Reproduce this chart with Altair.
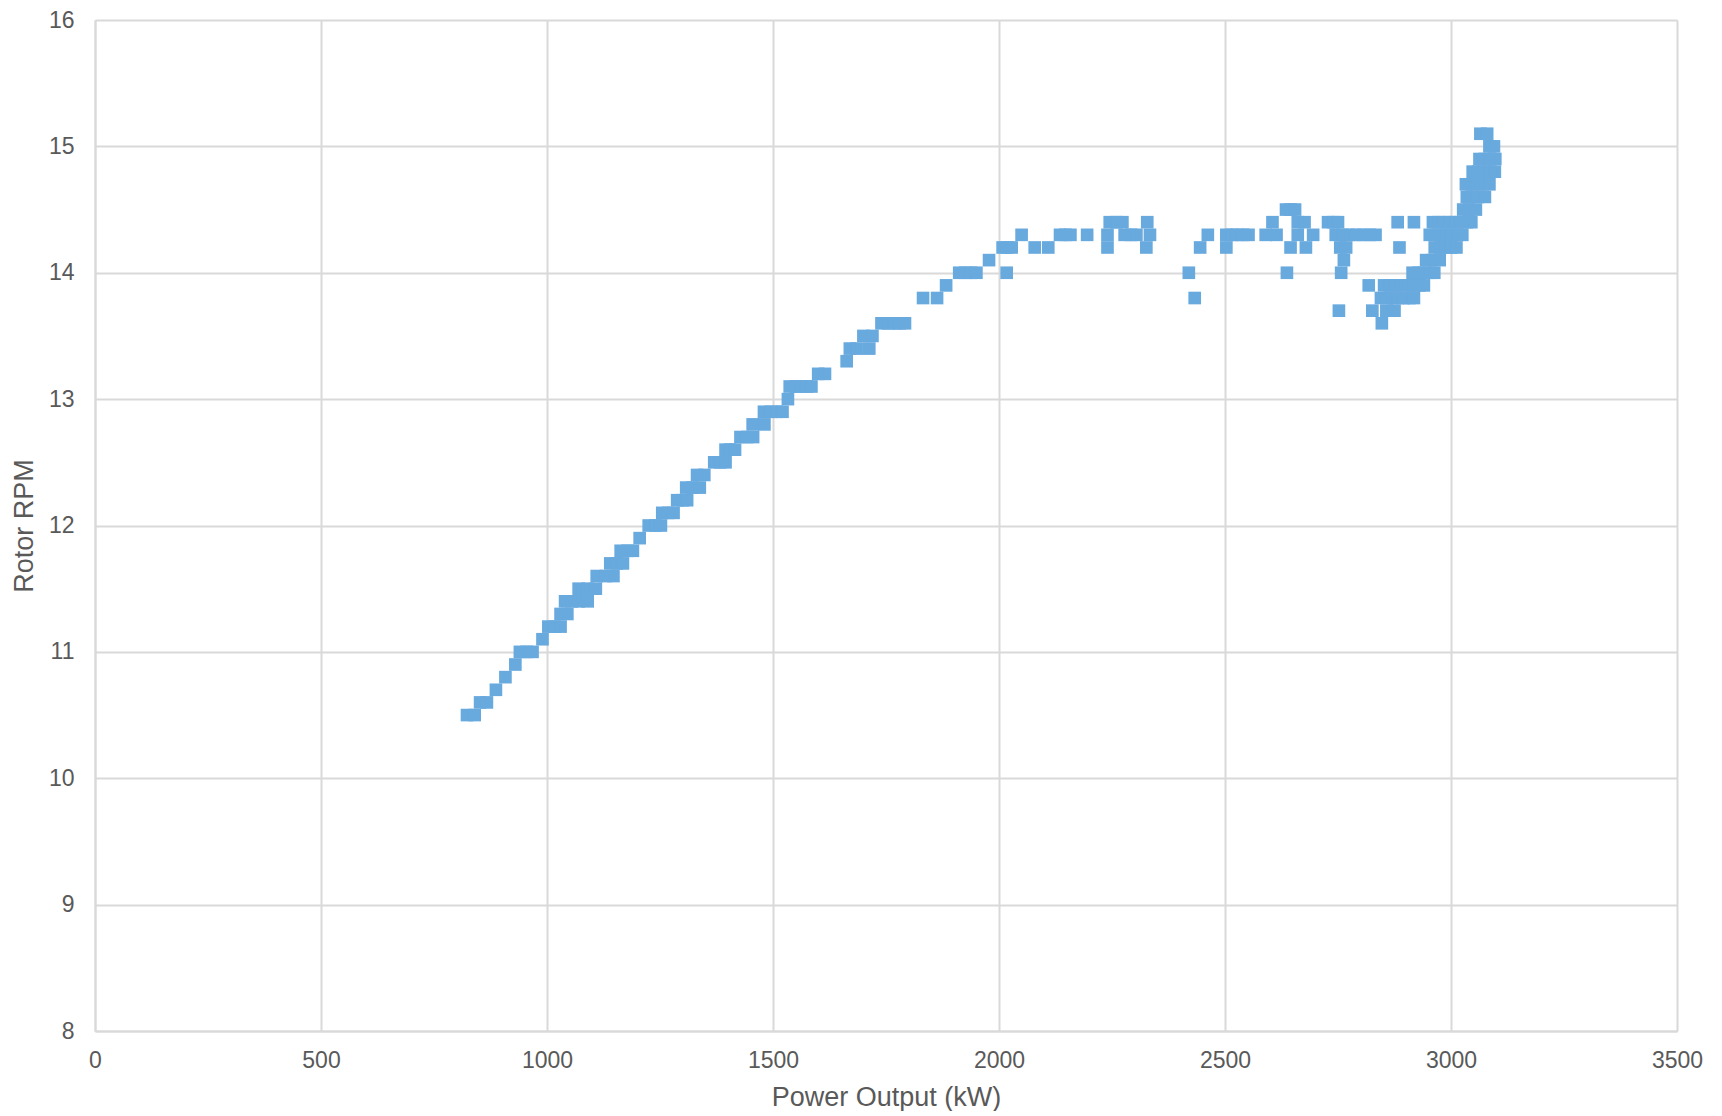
import altair as alt
import pandas as pd

# Power output (kW) and matching rotor speed (RPM)
power_kw = [
    823, 840, 852, 867, 887, 908, 930, 940, 955, 968, 990,
    1003, 1017, 1030, 1030, 1045, 1040, 1055, 1070, 1090,
    1070, 1090, 1108, 1110, 1130, 1147, 1140, 1155, 1168,
    1163, 1178, 1190, 1205, 1225, 1240, 1252, 1255, 1268, 1280,
    1288, 1300, 1310, 1308, 1322, 1338, 1332, 1348,
    1370, 1383, 1395, 1395, 1405, 1416, 1428, 1443, 1456,
    1455, 1481, 1480, 1495, 1508, 1521, 1533,
    1537, 1550, 1562, 1575, 1585, 1600, 1615, 1663,
    1670, 1685, 1713, 1700, 1720, 1740, 1755, 1768, 1780, 1792,
    1832, 1863, 1883, 1912, 1925, 1938, 1950, 2017, 1978,
    2008, 2018, 2028, 2079, 2109, 2050, 2135, 2147, 2158, 2195,
    2245, 2260, 2273, 2240, 2278, 2292, 2304, 2334, 2240, 2326, 2328,
    2420, 2433, 2445, 2462, 2503, 2503, 2515, 2527, 2540, 2552,
    2590, 2614, 2605, 2635, 2645, 2655, 2661, 2676, 2661, 2695,
    2645, 2679, 2637, 2728, 2740, 2750,
    2745, 2760, 2775, 2790, 2805, 2820, 2833, 2755, 2768, 2763, 2757, 2752,
    2818, 2882, 2918, 2886,
    2852, 2865, 2878, 2890, 2905, 2918, 2930, 2940,
    2845, 2858, 2870, 2882, 2895, 2908, 2918,
    2826, 2857, 2875, 2847,
    2915, 2928, 2940, 2952, 2963, 2945, 2960, 2975,
    2964, 2976, 2988, 3000, 3012,
    2953, 2965, 2978, 2990, 3002, 3015, 3025,
    2960, 2972, 2985, 2997, 3010, 3022, 3035, 3045,
    3027, 3040, 3055, 3035, 3048, 3060, 3075,
    3033, 3045, 3057, 3070, 3085, 3048, 3060, 3072, 3085, 3097,
    3063, 3075, 3088, 3098, 3085, 3095, 3065, 3080,
]

rotor_rpm = [
    10.5, 10.5, 10.6, 10.6, 10.7, 10.8, 10.9, 11.0, 11.0, 11.0, 11.1,
    11.2, 11.2, 11.2, 11.3, 11.3, 11.4, 11.4, 11.4, 11.4,
    11.5, 11.5, 11.5, 11.6, 11.6, 11.6, 11.7, 11.7, 11.7,
    11.8, 11.8, 11.8, 11.9, 12.0, 12.0, 12.0, 12.1, 12.1, 12.1,
    12.2, 12.2, 12.2, 12.3, 12.3, 12.3, 12.4, 12.4,
    12.5, 12.5, 12.5, 12.6, 12.6, 12.6, 12.7, 12.7, 12.7,
    12.8, 12.8, 12.9, 12.9, 12.9, 12.9, 13.0,
    13.1, 13.1, 13.1, 13.1, 13.1, 13.2, 13.2, 13.3,
    13.4, 13.4, 13.4, 13.5, 13.5, 13.6, 13.6, 13.6, 13.6, 13.6,
    13.8, 13.8, 13.9, 14.0, 14.0, 14.0, 14.0, 14.0, 14.1,
    14.2, 14.2, 14.2, 14.2, 14.2, 14.3, 14.3, 14.3, 14.3, 14.3,
    14.4, 14.4, 14.4, 14.3, 14.3, 14.3, 14.3, 14.3, 14.2, 14.2, 14.4,
    14.0, 13.8, 14.2, 14.3, 14.2, 14.3, 14.3, 14.3, 14.3, 14.3,
    14.3, 14.3, 14.4, 14.5, 14.5, 14.5, 14.4, 14.4, 14.3, 14.3,
    14.2, 14.2, 14.0, 14.4, 14.4, 14.4,
    14.3, 14.3, 14.3, 14.3, 14.3, 14.3, 14.3, 14.2, 14.2, 14.1, 14.0, 13.7,
    13.9, 14.4, 14.4, 14.2,
    13.9, 13.9, 13.9, 13.9, 13.9, 13.9, 13.9, 13.9,
    13.8, 13.8, 13.8, 13.8, 13.8, 13.8, 13.8,
    13.7, 13.7, 13.7, 13.6,
    14.0, 14.0, 14.0, 14.0, 14.0, 14.1, 14.1, 14.1,
    14.2, 14.2, 14.2, 14.2, 14.2,
    14.3, 14.3, 14.3, 14.3, 14.3, 14.3, 14.3,
    14.4, 14.4, 14.4, 14.4, 14.4, 14.4, 14.4, 14.4,
    14.5, 14.5, 14.5, 14.6, 14.6, 14.6, 14.6,
    14.7, 14.7, 14.7, 14.7, 14.7, 14.8, 14.8, 14.8, 14.8, 14.8,
    14.9, 14.9, 14.9, 14.9, 15.0, 15.0, 15.1, 15.1,
]

x_ticks = [0, 500, 1000, 1500, 2000, 2500, 3000, 3500]
y_ticks = [8, 9, 10, 11, 12, 13, 14, 15, 16]

df = pd.DataFrame({"power": power_kw, "rpm": rotor_rpm})

FONT = "Liberation Sans"
TEXT = "#595959"
GRID = "#d9d9d9"

chart = (
    alt.Chart(df)
    .mark_point(shape="square", filled=True, size=160, opacity=1, color="#68a9de")
    .encode(
        x=alt.X(
            "power:Q",
            title="Power Output (kW)",
            scale=alt.Scale(domain=[0, 3500], nice=False, zero=False),
            axis=alt.Axis(
                values=x_ticks,
                format="d",
                labelFlush=False,
                grid=True,
                gridColor=GRID,
                gridWidth=2,
                domain=True,
                domainColor=GRID,
                domainWidth=2,
                ticks=False,
                labelFont=FONT,
                labelFontSize=23,
                labelColor=TEXT,
                labelPadding=18,
                titleFont=FONT,
                titleFontSize=27,
                titleFontWeight="normal",
                titleColor=TEXT,
                titlePadding=12,
            ),
        ),
        y=alt.Y(
            "rpm:Q",
            title="Rotor RPM",
            scale=alt.Scale(domain=[8, 16], nice=False, zero=False),
            axis=alt.Axis(
                values=y_ticks,
                format="d",
                labelFlush=False,
                grid=True,
                gridColor=GRID,
                gridWidth=2,
                domain=True,
                domainColor=GRID,
                domainWidth=2,
                ticks=False,
                labelFont=FONT,
                labelFontSize=23,
                labelColor=TEXT,
                labelPadding=21,
                titleFont=FONT,
                titleFontSize=27,
                titleFontWeight="normal",
                titleColor=TEXT,
                titlePadding=10,
            ),
        ),
    )
    .properties(
        width=1582,
        height=1011,
        autosize=alt.AutoSizeParams(type="none"),
        padding={"left": 87, "top": 12, "right": 30, "bottom": 80},
    )
    .configure_view(stroke=GRID, strokeWidth=2)
    .configure(background="white")
)

chart.save("out.html", embed_options={"renderer": "svg", "actions": False})
